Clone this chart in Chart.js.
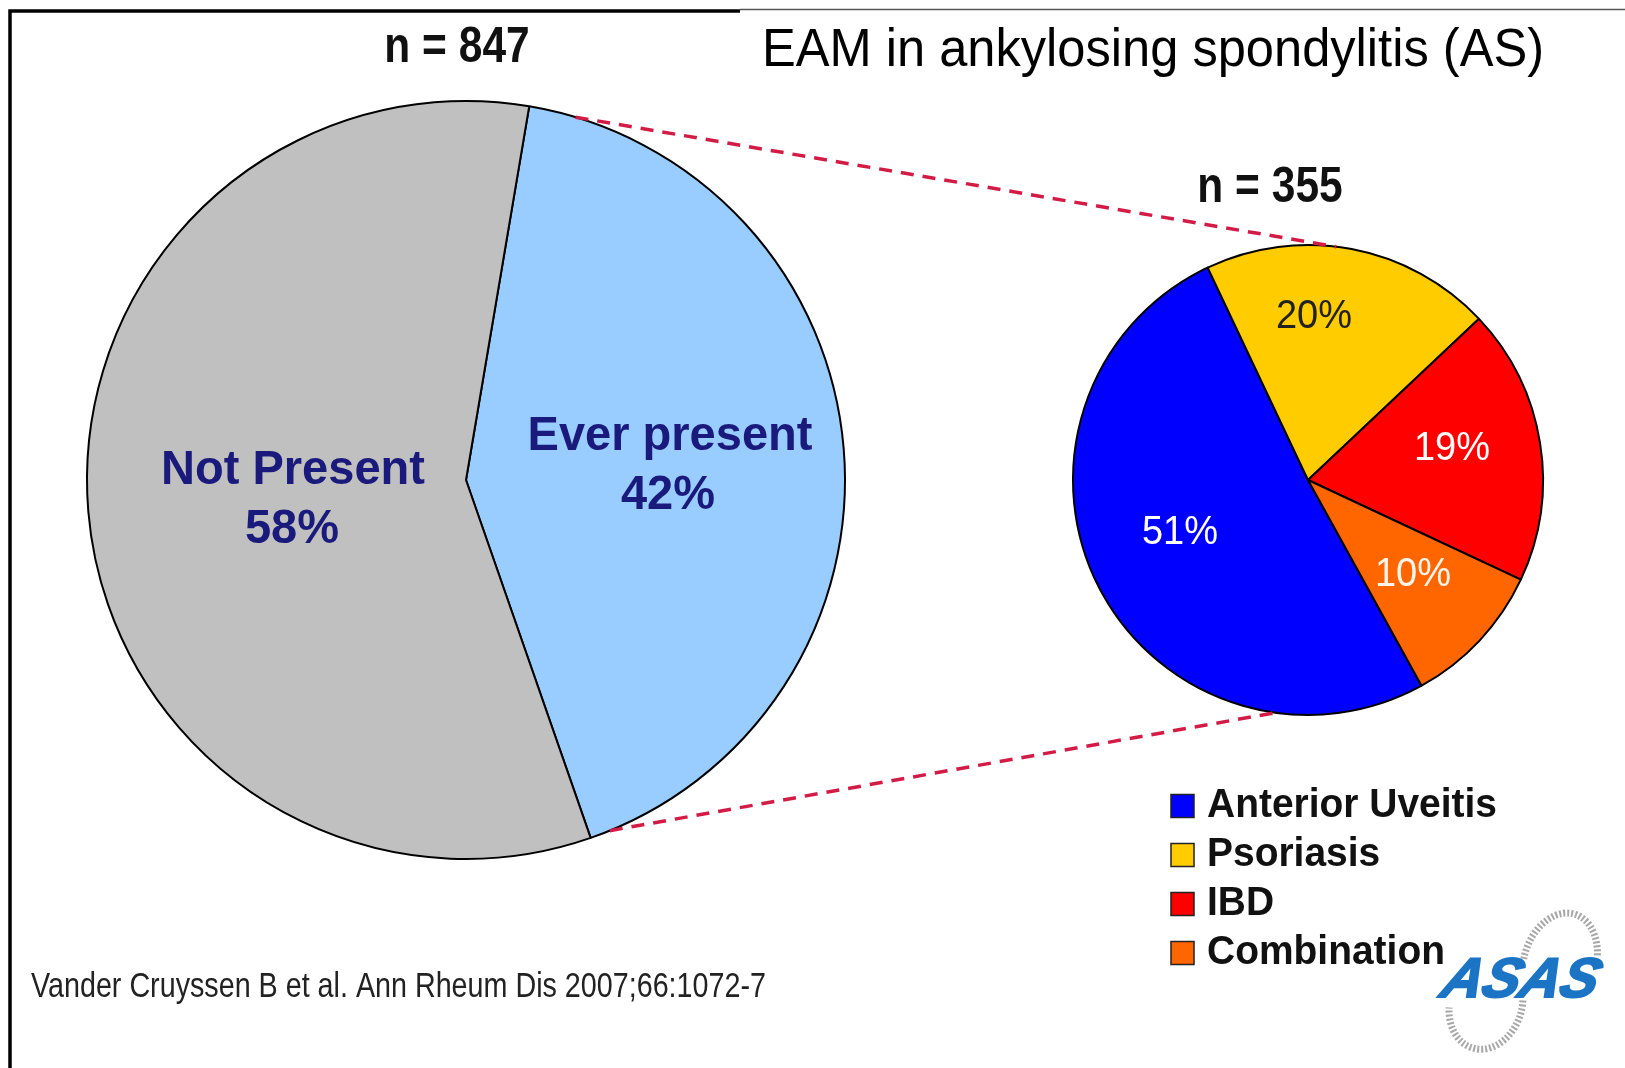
<!DOCTYPE html>
<html>
<head>
<meta charset="utf-8">
<script src="https://cdn.jsdelivr.net/npm/chart.js@4.4.1/dist/chart.umd.min.js"></script>
<style>
  body { margin: 0; background: #fff; }
  #wrap { position: relative; width: 1625px; height: 1068px; }
  canvas { position: absolute; left: 0; top: 0; }
</style>
</head>
<body>
<div id="wrap">
  <canvas id="bigPie" width="1625" height="1068"></canvas>
  <canvas id="smallPie" width="1625" height="1068"></canvas>
</div>
<script>
// data
const titleText = 'EAM in ankylosing spondylitis (AS)'
const sourceText = 'Vander Cruyssen B et al. Ann Rheum Dis 2007;66:1072-7'
const bigN = 847
const bigLabels = ['Ever present', 'Not Present']
const bigValues = [42, 58]
const smallN = 355
const smallLabels = ['Anterior Uveitis', 'Psoriasis', 'IBD', 'Combination']
const smallValues = [51, 20, 19, 10]

// styles
const bigColors = ['#99ccff', '#c0c0c0']
const smallColors = ['#0000ff', '#ffcc00', '#ff0000', '#ff6600']
const smallTextColors = ['#ffffff', '#222222', '#ffffff', '#fff4ea']
const FONT = '"Liberation Sans", Arial, sans-serif'

function drawText(ctx, s, x, y, o) {
    ctx.save()
    ctx.translate(x, y)
    ctx.scale(o.sx || 1, 1)
    ctx.font = (o.style || '') + ' ' + (o.weight || 'normal') + ' ' + o.size + 'px ' + FONT
    ctx.fillStyle = o.color || '#000'
    ctx.textAlign = o.align || 'center'
    ctx.textBaseline = 'middle'
    ctx.fillText(s, 0, 0)
    ctx.restore()
}

// point on a pie edge, angle in degrees clockwise from top
function edge(arc, deg) {
    let a = deg * Math.PI / 180
    return [arc.x + arc.outerRadius * Math.sin(a), arc.y - arc.outerRadius * Math.cos(a)]
}

// decorations of the big pie: frame, title, labels, footnote, logo
const bigDecor = {
    id: 'bigDecor',
    afterDraw(chart) {
        const ctx = chart.ctx
        const arc = chart.getDatasetMeta(0).data[0]
        ctx.save()
        // frame
        ctx.strokeStyle = '#000'
        ctx.lineWidth = 3.5
        ctx.beginPath()
        ctx.moveTo(10, 1068); ctx.lineTo(10, 11); ctx.lineTo(740, 11)
        ctx.stroke()
        ctx.strokeStyle = '#555'
        ctx.lineWidth = 1.5
        ctx.beginPath()
        ctx.moveTo(740, 9.5); ctx.lineTo(1625, 9.5)
        ctx.stroke()
        ctx.restore()

        drawText(ctx, titleText, 1153, 51, {size: 53, sx: 0.955})
        drawText(ctx, 'n = ' + bigN, 457, 48, {size: 50, weight: 'bold', sx: 0.85, color: '#111'})

        // slice labels
        const offs = [[[204, -44], [202, 15]], [[-173, -10], [-174, 49]]]
        bigLabels.forEach((lab, i) => {
            const o = {size: 49, weight: 'bold', sx: 0.96, color: '#1a1a7c'}
            drawText(ctx, lab, arc.x + offs[i][0][0], arc.y + offs[i][0][1], o)
            drawText(ctx, bigValues[i] + '%', arc.x + offs[i][1][0], arc.y + offs[i][1][1], o)
        })

        drawText(ctx, sourceText, 31, 987, {size: 35, sx: 0.82, align: 'left', color: '#222'})

        // ASAS logo
        ctx.save()
        ctx.strokeStyle = '#a8a8a8'
        ctx.lineWidth = 7
        ctx.setLineDash([2, 2])
        ctx.beginPath()
        ctx.ellipse(1560, 962, 36, 50, 0.3, Math.PI * 0.95, Math.PI * 1.9)
        ctx.stroke()
        ctx.beginPath()
        ctx.ellipse(1486, 1004, 36, 46, 0.3, -Math.PI * 0.1, Math.PI * 0.9)
        ctx.stroke()
        ctx.restore()
        ctx.save()
        ctx.translate(1521, 982)
        ctx.transform(1, 0, -0.3, 1, 0, 0)
        ctx.font = 'italic bold 56px ' + FONT
        ctx.fillStyle = '#1b74c4'
        ctx.strokeStyle = '#1b74c4'
        ctx.lineWidth = 2
        ctx.textAlign = 'center'
        ctx.textBaseline = 'middle'
        ctx.fillText('ASAS', 0, 0)
        ctx.strokeText('ASAS', 0, 0)
        ctx.restore()
    }
}

let bigChart = new Chart(document.getElementById('bigPie'), {
    type: 'pie',
    data: {
        labels: bigLabels,
        datasets: [{
            data: bigValues,
            backgroundColor: bigColors,
            borderColor: '#000',
            borderWidth: 2
        }]
    },
    options: {
        responsive: false,
        animation: false,
        rotation: 9.6,
        layout: { padding: { left: 86, top: 100, right: 779, bottom: 208 } },
        plugins: { legend: { display: false }, tooltip: { enabled: false } }
    },
    plugins: [bigDecor]
})

// small pie: labels, legend and the dashed connecting lines
const smallDecor = {
    id: 'smallDecor',
    afterDraw(chart) {
        const ctx = chart.ctx
        const arc = chart.getDatasetMeta(0).data[0]
        const bigArc = bigChart.getDatasetMeta(0).data[0]

        ctx.save()
        ctx.strokeStyle = '#d21c46'
        ctx.lineWidth = 3.5
        ctx.setLineDash([13, 9])
        ;[[16.8, 6.9], [157.7, 188]].forEach(a => {
            let p = edge(bigArc, a[0]), q = edge(arc, a[1])
            ctx.beginPath()
            ctx.moveTo(p[0], p[1]); ctx.lineTo(q[0], q[1])
            ctx.stroke()
        })
        ctx.restore()

        drawText(ctx, 'n = ' + smallN, 1270, 188, {size: 50, weight: 'bold', sx: 0.85, color: '#111'})

        const offs = [[-128, 53], [6, -163], [144, -31], [105, 95]]
        smallValues.forEach((v, i) => {
            drawText(ctx, v + '%', arc.x + offs[i][0], arc.y + offs[i][1],
                {size: 40, sx: 0.95, color: smallTextColors[i]})
        })

        // legend
        smallLabels.forEach((lab, i) => {
            let y = 806 + i * 49
            ctx.save()
            ctx.fillStyle = smallColors[i]
            ctx.strokeStyle = '#222'
            ctx.lineWidth = 1.5
            ctx.fillRect(1171, y - 11.5, 23, 23)
            ctx.strokeRect(1171, y - 11.5, 23, 23)
            ctx.restore()
            drawText(ctx, lab, 1207, y, {size: 41, weight: 'bold', sx: 0.95, align: 'left', color: '#111'})
        })
    }
}

let smallChart = new Chart(document.getElementById('smallPie'), {
    type: 'pie',
    data: {
        labels: smallLabels,
        datasets: [{
            data: smallValues,
            backgroundColor: smallColors,
            borderColor: '#000',
            borderWidth: 2
        }]
    },
    options: {
        responsive: false,
        animation: false,
        rotation: 151.1,
        layout: { padding: { left: 1072, top: 244, right: 81, bottom: 352 } },
        plugins: { legend: { display: false }, tooltip: { enabled: false } }
    },
    plugins: [smallDecor]
})
</script>
</body>
</html>
